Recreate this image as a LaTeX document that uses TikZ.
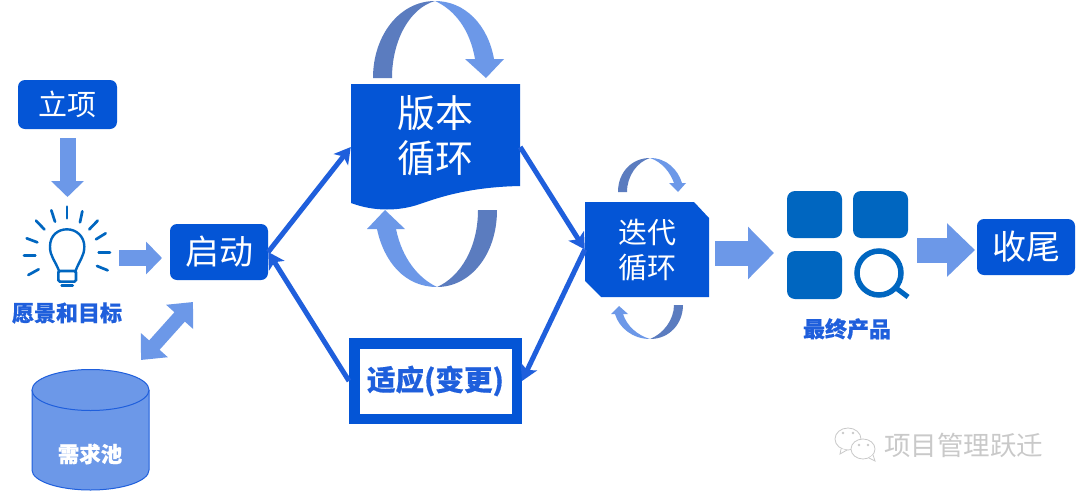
\documentclass[tikz,border=0pt]{standalone}
\usepackage{fontspec}
\setmainfont{Noto Sans CJK SC}
\usetikzlibrary{arrows.meta,shapes.geometric}
\definecolor{boxblue}{HTML}{0455D6}
\definecolor{lightarrow}{HTML}{6C98E8}
\definecolor{darkarrow}{HTML}{5B7CBF}
\definecolor{linkblue}{HTML}{1F5FDC}
\definecolor{iconblue}{HTML}{0066C0}
\definecolor{wm}{HTML}{C9C9C9}
\tikzset{
  fs/.style={font=\fontsize{#1}{#1}\selectfont},
  bfs/.style={font=\fontsize{#1}{#1}\selectfont\bfseries\addfontfeature{FakeBold=0.5}},
  bluebox/.style={fill=boxblue,rounded corners=7pt,text=white,inner sep=0pt,fs=#1},
  link/.style={draw=linkblue,line width=5pt,-{Stealth[length=16pt,width=18pt,inset=4pt]}},
  bluelabel/.style={text=linkblue,bfs=22,inner sep=0pt},
  ray/.style={draw=iconblue,line width=2.7pt,line cap=round},
  tile/.style={fill=iconblue,rounded corners=8pt},
  dk/.style={fill=darkarrow},
  lt/.style={fill=lightarrow}
}
\begin{document}
\begin{tikzpicture}[x=1pt,y=-1pt]
\useasboundingbox (0,0) rectangle (1080,493);
\fill[white] (0,0) rectangle (1080,493);

% upper loop of the version cycle
\path[dk] (373,78) .. controls (373,35) and (400,1) .. (435,1) .. controls (410,8) and (392,40) .. (392,78) -- cycle;
\path[lt] (435,1) .. controls (465,1) and (488,25) .. (494,59) -- (504,59) -- (486,78) -- (465,59) -- (475,59) .. controls (470,30) and (455,10) .. (435,1) -- cycle;
% lower loop of the version cycle
\path[lt] (437,287) .. controls (405,287) and (384,262) .. (377,229) -- (367,229) -- (385,210) -- (405,229) -- (396,229) .. controls (402,258) and (418,278) .. (437,287) -- cycle;
\path[dk] (437,287) .. controls (470,287) and (497,255) .. (497,210) -- (478,210) .. controls (478,248) and (460,277) .. (437,287) -- cycle;
% loops of the iteration cycle
\path[dk] (618,192) .. controls (618,172) and (632,158) .. (650,158) .. controls (637,162) and (627,176) .. (627,192) -- cycle;
\path[lt] (650,158) .. controls (667,158) and (678,170) .. (682,183) -- (686,183) -- (678,192) -- (669,183) -- (674,183) .. controls (670,172) and (662,162) .. (650,158) -- cycle;
\path[lt] (650,339) .. controls (633,339) and (619,328) .. (615,314) -- (611,314) -- (619,306) -- (628,314) -- (623,314) .. controls (627,326) and (637,335) .. (650,339) -- cycle;
\path[dk] (650,339) .. controls (670,339) and (683,323) .. (683,305) -- (674,305) .. controls (674,320) and (663,334) .. (650,339) -- cycle;

% version cycle
\path[fill=boxblue] (351,84) -- (520,84) -- (520,186) .. controls (470,187) and (440,197) .. (420,204) .. controls (400,211) and (375,212) .. (351,203) -- cycle;
\node[minimum width=169pt,minimum height=126pt,inner sep=0pt] (ver) at (435.5,147) {};
\node[text=white,fs=38,align=center,inner sep=0pt] (vertxt) at (435,135.5) {版本\\[7pt]循环};

% iteration cycle
\path[fill=boxblue] (585,202) -- (694,202) -- (709,218) -- (709,297) -- (601,297) -- (585,281) -- cycle;
\node[minimum width=124pt,minimum height=95pt,inner sep=0pt] (iter) at (647,249.5) {};
\node[text=white,fs=29,align=center,inner sep=0pt] (itertxt) at (647,250.5) {迭代\\[6pt]循环};

% boxes
\node[bluebox=29,minimum width=99pt,minimum height=49pt] (lx) at (67.5,104.5) {立项};
\node[bluebox=34,minimum width=98pt,minimum height=56pt] (qd) at (219,252) {启动};
\node[bluebox=34,minimum width=98pt,minimum height=56pt] (sw) at (1026,247) {收尾};
\node[draw=boxblue,line width=10.5pt,fill=white,minimum width=162.5pt,minimum height=75.5pt,inner sep=0pt,text=linkblue,bfs=28.5] (sy) at (435.5,381) {适应(变更)};

% bulb
\begin{scope}[shift={(0,70)},x=0.3333pt,y=-0.3333pt]
\foreach \a/\b/\c/\d in {201/410/201/445,154/421/165/455,247/424/240/457,108/452/133/478,293/452/268/478,80/505/112/517,317/490/288/508,72/557/106/557,296/548/330/548,85/615/116/598,291/588/323/601,185/647/218/647}
  \draw[ray] (\a,\b) -- (\c,\d);
\draw[ray,line width=2.4pt] (178,605) .. controls (165,570) and (150,560) .. (150,530) .. controls (150,495) and (175,478) .. (201,478) .. controls (230,478) and (253,500) .. (253,530) .. controls (253,560) and (238,570) .. (226,605);
\draw[draw=iconblue,line width=2.6pt,rounded corners=1.5pt] (175,603) rectangle (228,635);
\end{scope}
\node[bluelabel] (vision) at (67,313) {愿景和目标};

% cylinder
\node[draw=none,minimum width=117pt,minimum height=123pt,inner sep=0pt] (pool) at (90.5,430.5) {};
\path[fill=lightarrow,draw=linkblue,line width=1pt] (32,390) -- (32,470) arc[x radius=58.5,y radius=20,start angle=180,end angle=0,] -- (149,390);
\path[fill=lightarrow,draw=linkblue,line width=1pt] (90.5,390) ellipse[x radius=58.5,y radius=20.5];
\node[text=white,bfs=21.5,inner sep=0pt] (pooltxt) at (90,454) {需求池};

% product icon
\node[tile,minimum width=55pt,minimum height=47pt,inner sep=0pt] (t1) at (814.5,214.5) {};
\node[tile,minimum width=55pt,minimum height=47pt,inner sep=0pt] (t2) at (880.5,214.5) {};
\node[tile,minimum width=55pt,minimum height=48pt,inner sep=0pt] (t3) at (814.5,275) {};
\draw[draw=iconblue,line width=5.5pt] (879,273) circle[radius=22];
\draw[draw=iconblue,line width=5pt] (896,288) -- (908,297);
\node[bluelabel] (prod) at (847,329) {最终产品};

% block arrows
\coordinate (a1) at (67.5,138);
\coordinate (a2) at (67.5,197);
\coordinate (b1) at (119,258);
\coordinate (b2) at (162,258);
\coordinate (c1) at (193,302);
\coordinate (c2) at (141,360);
\coordinate (d1) at (715,253);
\coordinate (d2) at (774,253);
\coordinate (e1) at (917,250);
\coordinate (e2) at (975,250);
\draw[draw=lightarrow,line width=16pt,-{Triangle[length=16pt,width=32pt]}] (a1) -- (a2);
\draw[draw=lightarrow,line width=16pt,-{Triangle[length=16pt,width=32pt]}] (b1) -- (b2);
\draw[draw=lightarrow,line width=14pt,{Triangle[length=20pt,width=35pt]}-{Triangle[length=20pt,width=35pt]}] (c1) -- (c2);
\draw[draw=lightarrow,line width=25pt,-{Triangle[length=26pt,width=51pt]}] (d1) -- (d2);
\draw[draw=lightarrow,line width=25pt,-{Triangle[length=28pt,width=52pt]}] (e1) -- (e2);

% links
\draw[link] (qd.east) -- (ver.west);
\draw[link] (ver.east) -- (iter.west);
\draw[link] (iter.west) -- (sy.east);
\draw[link] (sy.west) -- (qd.east);

% watermark
\draw[draw=wm,fill=white,line width=0.8pt] (848,439) ellipse[x radius=13,y radius=11];
\draw[draw=wm,fill=white,line width=0.8pt] (841,449) -- (840,454) -- (847,450);
\draw[draw=wm,fill=white,line width=0.8pt] (863,449) ellipse[x radius=12,y radius=10];
\draw[draw=wm,fill=white,line width=0.8pt] (869,458) -- (875,461) -- (873,455);
\fill[wm] (843,433) circle[radius=1.4] (853,433) circle[radius=1.4] (859,445) circle[radius=1.3] (868,445) circle[radius=1.3];
\node[text=wm,fs=26.5,inner sep=0pt] (mark) at (963.5,445) {项目管理跃迁};
\end{tikzpicture}
\end{document}
